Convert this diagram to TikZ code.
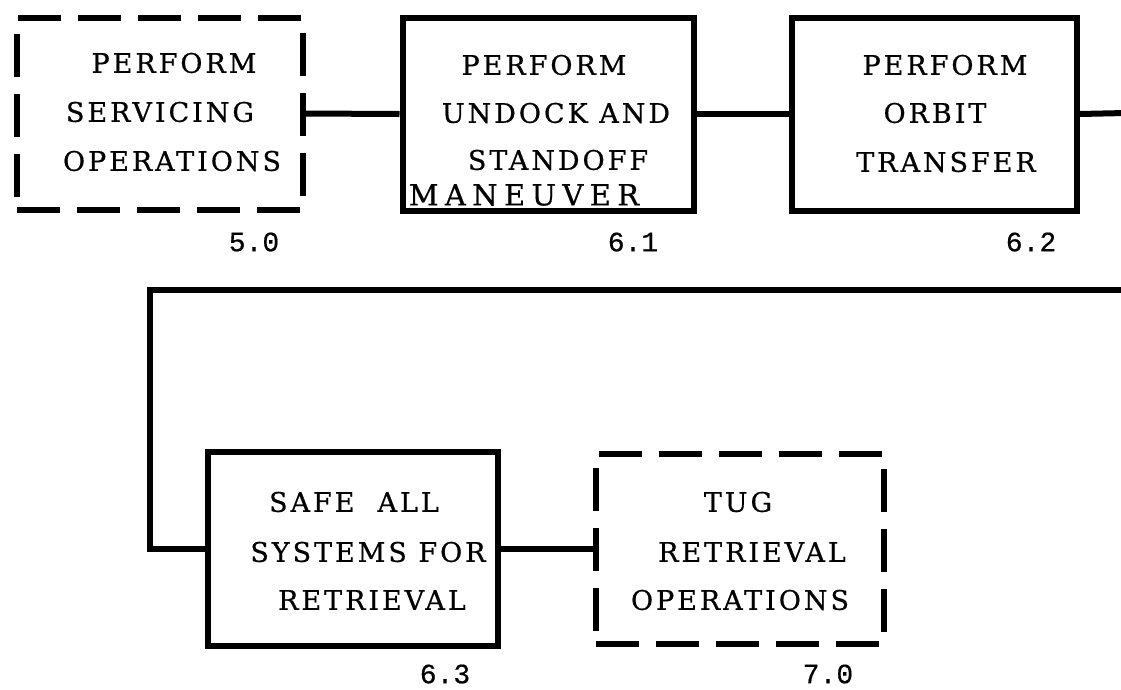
\documentclass[tikz,border=0pt]{standalone}
\usepackage{fontspec}
\newfontfamily\boxfont[LetterSpace=11,FakeBold=0.6]{DejaVu Serif}
\newfontfamily\numfont[FakeBold=0.5]{Liberation Mono}
\begin{document}
\begin{tikzpicture}[x=1pt,y=-1pt,
  box/.style={draw,line width=6pt,inner sep=0pt,line join=miter},
  dbox/.style={box,dash pattern=on 43pt off 17pt},
  conn/.style={line width=6pt},
  txt/.style={font=\boxfont\fontsize{27}{30}\selectfont,inner sep=0pt,anchor=center},
  num/.style={font=\numfont\fontsize{28}{30}\selectfont,inner sep=0pt,anchor=center}]
\useasboundingbox (0,0) rectangle (1121,689);
% boxes
\node[dbox,minimum width=286pt,minimum height=192pt] (b50) at (159.5,113.5) {};
\node[box,minimum width=291pt,minimum height=193pt] (b61) at (548,114) {};
\node[box,minimum width=285pt,minimum height=193pt] (b62) at (934,114) {};
\node[box,minimum width=290pt,minimum height=194pt] (b63) at (352.5,548.5) {};
\node[dbox,minimum width=288pt,minimum height=190pt] (b70) at (740,549) {};
% connectors
\coordinate (r1) at (1126,113);
\coordinate (r2) at (1126,290);
\coordinate (k) at (150,290);
\draw[conn] (b50.east) -- (b61.west);
\draw[conn] (b61.east) -- (b62.west);
\draw[conn] (b62.east) -- (r1);
\draw[conn] (r2) -- (k) |- (b63.west);
\draw[conn] (b63.east) -- (b63.east -| b70.west);
% texts
\node[txt] (t50a) at (174,63) {PERFORM};
\node[txt] (t50b) at (160,112) {SERVICING};
\node[txt] (t50c) at (172,161) {OPERATIONS};
\node[txt] (t61a) at (544,65) {PERFORM};
\node[txt] (t61b) at (556,113) {UNDOCK AND};
\node[txt] (t61c) at (558,160) {STANDOFF};
\node[txt,font=\boxfont\fontsize{29}{30}\selectfont\addfontfeature{LetterSpace=22}] (t61d) at (524,195) {MANEUVER};
\node[txt] (t62a) at (945,65) {PERFORM};
\node[txt] (t62b) at (935,113) {ORBIT};
\node[txt] (t62c) at (946,162) {TRANSFER};
\node[txt] (t63a) at (354,502) {SAFE\ \ ALL};
\node[txt] (t63b) at (368,552) {SYSTEMS FOR};
\node[txt] (t63c) at (372,600) {RETRIEVAL};
\node[txt] (t70a) at (738,502) {TUG};
\node[txt] (t70b) at (752,552) {RETRIEVAL};
\node[txt] (t70c) at (740,600) {OPERATIONS};
% numbers
\node[num] (n50) at (254,242) {5.0};
\node[num] (n61) at (633,242) {6.1};
\node[num] (n62) at (1031,242) {6.2};
\node[num] (n63) at (445,674) {6.3};
\node[num] (n70) at (828,674) {7.0};
\end{tikzpicture}
\end{document}
